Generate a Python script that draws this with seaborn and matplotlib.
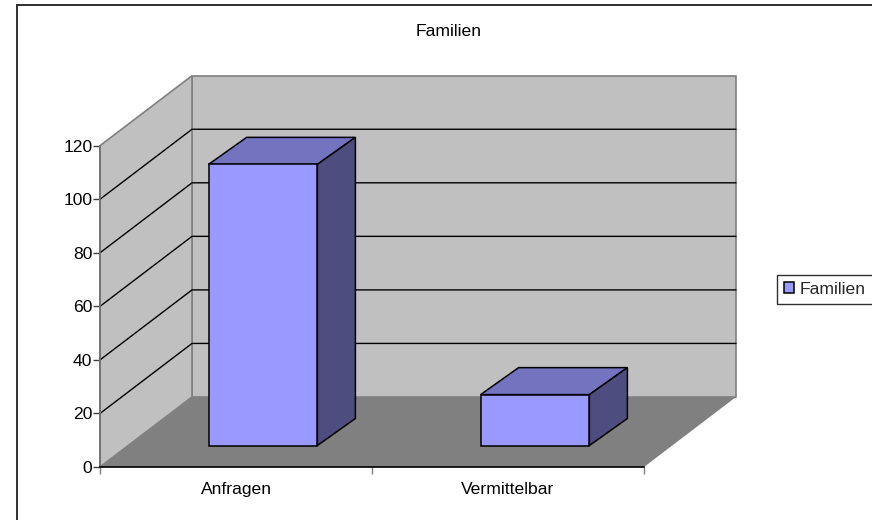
import matplotlib
matplotlib.use("Agg")
import matplotlib.pyplot as plt
from matplotlib.lines import Line2D
from matplotlib.patches import Patch, Polygon
from matplotlib.transforms import ScaledTranslation
import pandas as pd
import seaborn as sns

# === Data ===
categories = ["Anfragen", "Vermittelbar"]
values = [105, 19]
series_name = "Familien"
y_ticks = [0, 20, 40, 60, 80, 100, 120]

# === Colours ===
FRONT = "#9999FF"
TOP = "#7373BF"
SIDE = "#4D4D80"
WALL = "#C0C0C0"
FLOOR = "#808080"

# depth of the fake 3D box, in pixels
DPI = 100
DEPTH_X, DEPTH_Y = 92, 70
BAR_DX, BAR_DY = 38, 27
BAR_OFF_X, BAR_OFF_Y = 27, 21.5
BAR_WIDTH = 0.4
FONT = 12.6

sns.set_theme(style="white")
plt.rcParams["font.family"] = ["Liberation Sans", "DejaVu Sans"]
plt.rcParams["font.size"] = FONT

df = pd.DataFrame({"Kategorie": categories, "Wert": values})

W, H = 872, 520
fig = plt.figure(figsize=(W / DPI, H / DPI), dpi=DPI)
# front plane of the box
ax = fig.add_axes([100 / W, (H - 467) / H, 544 / W, 321.3 / H])
ax.patch.set_visible(False)


def shift(dx, dy):
    return ax.transData + ScaledTranslation(dx / DPI, dy / DPI, fig.dpi_scale_trans)


def face(points, color, trans, z, edge="none", lw=1.0):
    ax.add_patch(Polygon(points, closed=True, facecolor=color, edgecolor=edge,
                         linewidth=lw, transform=trans, zorder=z, clip_on=False,
                         joinstyle="miter"))


x0, x1 = -0.5, 1.5
y0, y1 = y_ticks[0], y_ticks[-1]

# === Bars (front faces) ===
sns.barplot(data=df, x="Kategorie", y="Wert", color=FRONT, saturation=1,
            width=BAR_WIDTH, edgecolor="black", linewidth=1.1, ax=ax, zorder=5)
ax.set_xlim(x0, x1)
ax.set_ylim(y0, y1)

# === Walls and floor ===
# the floor and walls need both planes, so work out data units per pixel
d = ax.transData.transform([(x0, y0), (x1, y0), (x0, y1)])
px = (d[1][0] - d[0][0]) / (x1 - x0)
py = (d[2][1] - d[0][1]) / (y1 - y0)
ux = DEPTH_X / px
uy = DEPTH_Y / py

face([(x0 + ux, y0 + uy), (x1 + ux, y0 + uy), (x1 + ux, y1 + uy), (x0 + ux, y1 + uy)],
     WALL, ax.transData, 1, edge=FLOOR, lw=1.2)
face([(x0, y0), (x0 + ux, y0 + uy), (x0 + ux, y1 + uy), (x0, y1)], WALL,
     ax.transData, 1, edge=FLOOR, lw=1.2)
face([(x0, y0), (x1, y0), (x1 + ux, y0 + uy), (x0 + ux, y0 + uy)], FLOOR,
     ax.transData, 2)

# gridlines run along the side wall and the back wall
for t in y_ticks[1:-1]:
    ax.plot([x0, x0 + ux, x1 + ux], [t, t + uy, t + uy], color="black", lw=1.0,
            zorder=3, clip_on=False, solid_joinstyle="miter")

# === Top and side faces of the bars ===
off = shift(BAR_OFF_X, BAR_OFF_Y)
ax_bars = ax.patches[:len(categories)]
for bar in ax_bars:
    bar.set_transform(off)
    bar.set_clip_on(False)
    left, right = bar.get_x(), bar.get_x() + bar.get_width()
    h = bar.get_height()
    bx, by = BAR_DX / px, BAR_DY / py
    face([(left, h), (right, h), (right + bx, h + by), (left + bx, h + by)],
         TOP, off, 4, edge="black", lw=1.1)
    face([(right, 0), (right + bx, by), (right + bx, h + by), (right, h)],
         SIDE, off, 4, edge="black", lw=1.1)

# === Axes, ticks, labels ===
sns.despine(ax=ax, top=True, right=True)
for side in ["left", "bottom"]:
    ax.spines[side].set_zorder(6)
ax.spines["left"].set_color("#707070")
ax.spines["left"].set_linewidth(1.2)
ax.spines["bottom"].set_color("black")
ax.spines["bottom"].set_linewidth(1.2)
ax.set_xlabel("")
ax.set_ylabel("")
ax.set_yticks(y_ticks)
ax.set_xticks([0, 1])
ax.set_xticklabels(categories)
ax.set_xticks([-0.5, 0.5, 1.5], minor=True)
ax.tick_params(axis="x", which="major", length=0, pad=11, labelsize=FONT, colors="black")
ax.tick_params(axis="x", which="minor", bottom=True, length=5, width=1.0, color="#808080")
ax.tick_params(axis="y", left=True, length=5, width=1.0, pad=0.5, color="#404040",
               labelsize=FONT, labelcolor="black")

fig.text(449 / W, 1 - 31 / H, series_name, ha="center", va="center", fontsize=FONT,
         color="black")

# === Legend ===
handle = Patch(facecolor=FRONT, edgecolor="black", linewidth=1.1, label=series_name)
leg = fig.legend(handles=[handle], loc="center", bbox_to_anchor=(824.8 / W, 1 - 289.5 / H),
                 fontsize=FONT, fancybox=False, framealpha=1, edgecolor="#303030",
                 handlelength=0.6, handleheight=0.6, handletextpad=0.3,
                 borderpad=0.42, borderaxespad=0)
leg.get_frame().set_linewidth(1.0)

# === Chart area border (only top and left show in the original crop) ===
fig.add_artist(Line2D([17 / W, 17 / W, 1], [0, 1 - 4.5 / H, 1 - 4.5 / H], color="#303030",
                      lw=1.4, transform=fig.transFigure, solid_joinstyle="miter"))

fig.savefig("out.png", dpi=DPI)
